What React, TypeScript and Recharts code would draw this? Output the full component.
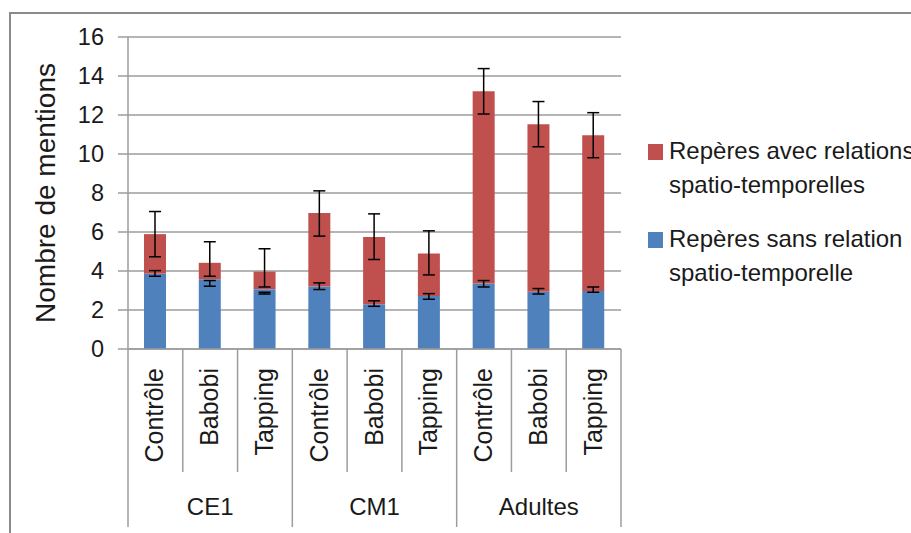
import { BarChart, Bar, XAxis, YAxis, CartesianGrid, ErrorBar, Label } from 'recharts'

const groups = ['CE1', 'CM1', 'Adultes']
const conditions = ['Contrôle', 'Babobi', 'Tapping']

// Repères sans relation spatio-temporelle (blue, bottom of the stack)
const sansRelation = [3.86, 3.58, 3.07, 3.2, 2.3, 2.72, 3.36, 2.93, 2.98]
const sansErrLow = [0.13, 0.36, 0.25, 0.15, 0.11, 0.17, 0.18, 0.11, 0.07]
const sansErrHigh = [0.16, -0.07, -0.16, 0.19, 0.17, 0.12, 0.15, 0.17, 0.2]

// Repères avec relations spatio-temporelles (red, stacked on top)
const avecRelations = [2.03, 0.84, 0.9, 3.77, 3.44, 2.18, 9.86, 8.59, 7.98]
const avecErrLow = [1.16, 0.69, 0.79, 1.18, 1.15, 1.1, 1.17, 1.15, 1.15]
const avecErrHigh = [1.16, 1.08, 1.17, 1.14, 1.19, 1.16, 1.16, 1.17, 1.16]

const yTicks = [0, 2, 4, 6, 8, 10, 12, 14, 16]

const RED = '#C0504D'
const BLUE = '#4F81BD'
const GRID = '#9c9c9c'
const FONT = '"Liberation Sans", Arial, sans-serif'
const TEXT = '#1a1a1a'

const W = 911
const H = 533
const MARGIN = { top: 37, right: 290, bottom: 0, left: 0 }
const Y_AXIS_W = 128
const BAND = (W - MARGIN.left - MARGIN.right - Y_AXIS_W) / 9

const data = sansRelation.map((v, i) => ({
  id: i,
  sans: v,
  sansErr: [sansErrLow[i], sansErrHigh[i]],
  avec: avecRelations[i],
  avecErr: [avecErrLow[i], avecErrHigh[i]],
}))

function CategoryTick({ x, y, payload }: { x?: number; y?: number; payload?: { index: number } }) {
  if (x == null || y == null || !payload) return null
  const i = payload.index
  const left = x - BAND / 2
  return (
    <g>
      <line x1={left} x2={left} y1={y} y2={y + (i % 3 === 0 ? 178 : 123)} stroke={GRID} strokeWidth={1.5} />
      {i === 8 && <line x1={x + BAND / 2} x2={x + BAND / 2} y1={y} y2={y + 178} stroke={GRID} strokeWidth={1.5} />}
      <text
        transform={`translate(${x + 8},${y + 19}) rotate(-90)`}
        textAnchor="end"
        fontSize={25}
        fontFamily={FONT}
        fill={TEXT}
      >
        {conditions[i % 3]}
      </text>
      {i % 3 === 1 && (
        <text x={x} y={y + 166} textAnchor="middle" fontSize={24} fontFamily={FONT} fill={TEXT}>
          {groups[Math.floor(i / 3)]}
        </text>
      )}
    </g>
  )
}

function LegendBox() {
  const items = [
    { color: RED, lines: ['Repères avec relations', 'spatio-temporelles'] },
    { color: BLUE, lines: ['Repères sans relation', 'spatio-temporelle'] },
  ]
  return (
    <div
      style={{
        position: 'absolute',
        left: 648,
        top: 134,
        width: 280,
        fontFamily: FONT,
        fontSize: 24,
        color: TEXT,
        lineHeight: '34px',
        whiteSpace: 'nowrap',
      }}
    >
      {items.map((it, k) => (
        <div key={k} style={{ display: 'flex', alignItems: 'flex-start', marginBottom: k === 0 ? 20 : 0 }}>
          <div style={{ width: 15, height: 16, background: it.color, marginTop: 10, marginRight: 6, flexShrink: 0 }} />
          <div>
            {it.lines.map((l, j) => (
              <div key={j}>{l}</div>
            ))}
          </div>
        </div>
      ))}
    </div>
  )
}

export default function App() {
  return (
    <div style={{ position: 'absolute', left: 0, top: 0, width: W, height: H, background: '#fff', overflow: 'hidden' }}>
      <div
        style={{
          position: 'absolute',
          left: 9,
          top: 12,
          width: W,
          height: H,
          borderTop: '2px solid #8a8a8a',
          borderLeft: '2px solid #8a8a8a',
        }}
      />
      <BarChart width={W} height={H} data={data} margin={MARGIN} style={{ position: 'absolute', left: 0, top: 0 }}>
        <CartesianGrid vertical={false} stroke={GRID} strokeWidth={1.5} />
        <XAxis
          dataKey="id"
          height={H - 349}
          tick={<CategoryTick />}
          tickLine={false}
          tickSize={0}
          tickMargin={0}
          interval={0}
          axisLine={{ stroke: GRID, strokeWidth: 1.5 }}
        />
        <YAxis
          width={Y_AXIS_W}
          domain={[0, 16]}
          ticks={yTicks}
          interval={0}
          tickSize={10}
          tickMargin={14}
          tickLine={{ stroke: GRID, strokeWidth: 1.5 }}
          axisLine={{ stroke: GRID, strokeWidth: 1.5 }}
          tick={{ fontSize: 23.5, fontFamily: FONT, fill: TEXT }}
        >
          <Label
            content={() => (
              <text
                transform="translate(55,193) rotate(-90)"
                textAnchor="middle"
                fontSize={28}
                fontFamily={FONT}
                fill={TEXT}
              >
                Nombre de mentions
              </text>
            )}
          />
        </YAxis>
        <Bar dataKey="sans" stackId="a" fill={BLUE} barSize={22} isAnimationActive={false}>
          <ErrorBar dataKey="sansErr" width={6} stroke="#000" strokeWidth={1.5} direction="y" />
        </Bar>
        <Bar dataKey="avec" stackId="a" fill={RED} barSize={22} isAnimationActive={false}>
          <ErrorBar dataKey="avecErr" width={6} stroke="#000" strokeWidth={1.5} direction="y" />
        </Bar>
      </BarChart>
      <LegendBox />
    </div>
  )
}
